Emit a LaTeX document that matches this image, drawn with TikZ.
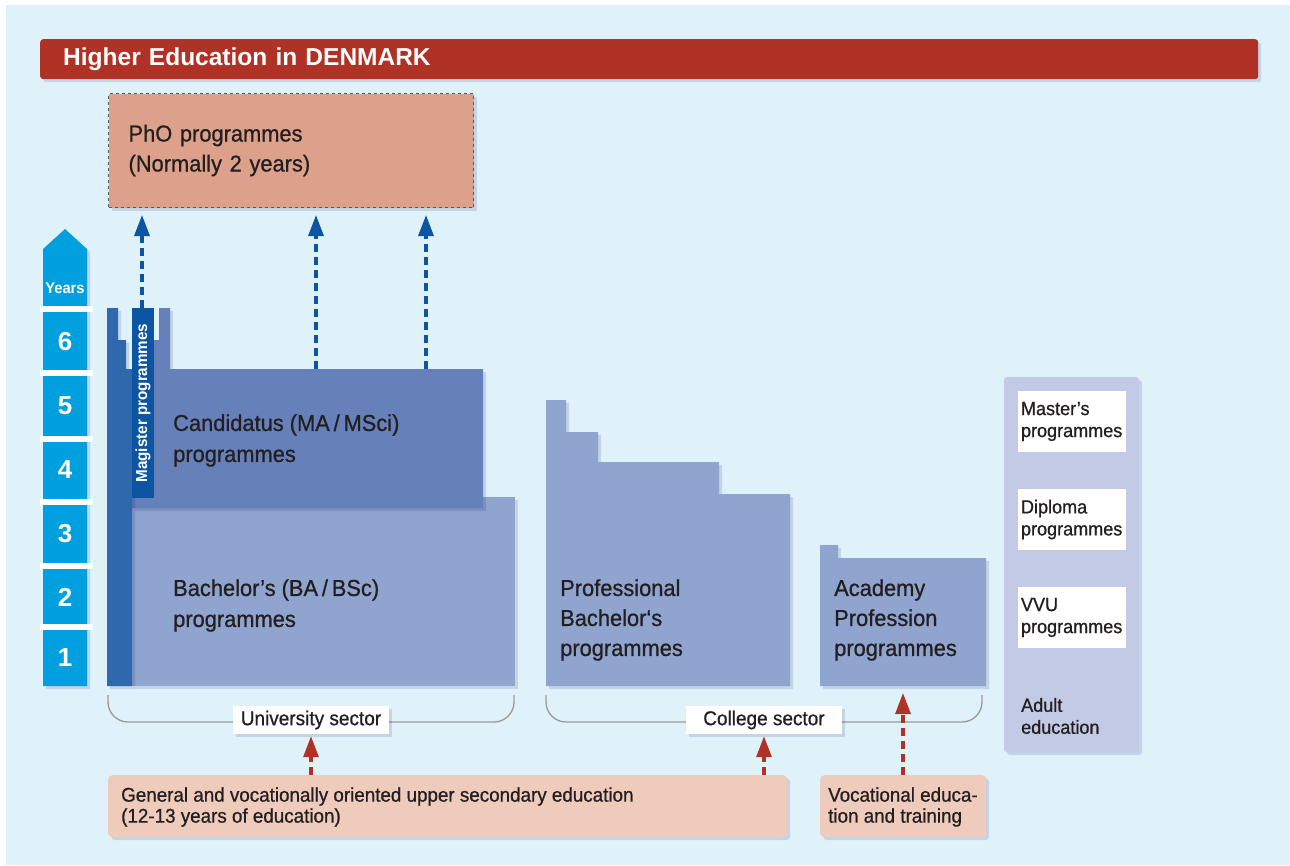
\documentclass[tikz,border=0pt]{standalone}
\usepackage{fontspec}
\setmainfont{Liberation Sans}
\newfontfamily\cond[FakeStretch=0.95,UprightFeatures={FakeBold=0.8}]{Liberation Sans}
\usetikzlibrary{shadows,arrows.meta}
\definecolor{bgc}{HTML}{DFF2FA}
\definecolor{redc}{HTML}{B03226}
\definecolor{phdc}{HTML}{DCA08B}
\definecolor{darkc}{HTML}{3068AE}
\definecolor{magc}{HTML}{0C55A2}
\definecolor{candc}{HTML}{6680BA}
\definecolor{bachc}{HTML}{8FA4CF}
\definecolor{adultc}{HTML}{C3CAE6}
\definecolor{lowc}{HTML}{EFCBBB}
\definecolor{yearc}{HTML}{00A0DF}
\definecolor{bluearr}{HTML}{0B55A3}
\definecolor{txtc}{HTML}{231F20}
\definecolor{bracec}{HTML}{9A9A9A}
\tikzset{
  shad/.style={drop shadow={shadow xshift=3pt,shadow yshift=-3pt,opacity=0.12,fill=black!70!blue}},
  bigtxt/.style={anchor=west,align=left,inner sep=0pt,text=txtc,font=\cond\fontsize{23}{31}\selectfont},
  midtxt/.style={anchor=west,align=left,inner sep=0pt,text=txtc,font=\cond\fontsize{19.8}{21}\selectfont},
  whitebox/.style={fill=white,minimum width=108pt,minimum height=61pt,text width=102pt,inner xsep=3pt,inner ysep=0pt,align=left,text=txtc,font=\cond\fontsize{19}{22}\selectfont},
  sectorlabel/.style={fill=white,minimum width=156pt,minimum height=28pt,inner sep=0pt,text=txtc,font=\cond\fontsize{20}{22}\selectfont,shad},
  lowbox/.style={fill=lowc,rounded corners=4pt,anchor=north west,inner sep=0pt,shad},
  yearnum/.style={text=white,font=\bfseries\fontsize{26}{26}\selectfont,inner sep=0pt},
  sep/.style={fill=white},
  bluedash/.style={draw=bluearr,line width=3.2pt,dash pattern=on 8pt off 5pt,-{Triangle[length=21pt,width=15pt]}},
  reddash/.style={draw=redc,line width=3.2pt,dash pattern=on 8pt off 5pt,-{Triangle[length=21pt,width=15pt]}},
  brace/.style={draw=bracec,line width=1.3pt,rounded corners=20pt}
}
\begin{document}
\begin{tikzpicture}[x=1pt,y=-1pt]
\useasboundingbox (0,0) rectangle (1290,865);
\fill[white] (0,0) rectangle (1290,865);
\fill[bgc] (6,5) rectangle (1290,865);

% title
\node[fill=redc,rounded corners=3pt,anchor=north west,minimum height=40pt,text width=1172pt,inner xsep=23pt,inner ysep=0pt,align=left,text=white,font=\bfseries\fontsize{24.5}{26}\selectfont,shad] (title) at (40,39) {Higher Education in DENMARK};

% PhD box
\node[fill=phdc,draw=black!65,dashed,line width=1.1pt,anchor=north west,minimum height=114pt,text width=325pt,inner xsep=20pt,inner ysep=0pt,align=left,text=txtc,font=\cond\fontsize{23}{30}\selectfont,shad] (phd) at (108,93) {PhO programmes\\(Normally 2 years)};

% years bar
\fill[yearc,shad] (43,249) -- (65,229) -- (87,249) -- (87,686) -- (43,686) -- cycle;
\foreach \yy in {309,373,439,502,566,627} \fill[sep] (40,\yy-3) rectangle (93,\yy+3);
\node[text=white,font=\cond\bfseries\fontsize{15.5}{16}\selectfont,inner sep=0pt] (years) at (65,288) {Years};
\node[yearnum] (y6) at (65,342) {6};
\node[yearnum] (y5) at (65,406) {5};
\node[yearnum] (y4) at (65,470) {4};
\node[yearnum] (y3) at (65,534) {3};
\node[yearnum] (y2) at (65,597) {2};
\node[yearnum] (y1) at (65,658) {1};

% university sector shapes
\fill[bachc,shad] (132,497) rectangle (515,686);
\fill[candc,shad] (132,340) -- (159,340) -- (159,308) -- (170,308) -- (170,369) -- (483,369) -- (483,508) -- (132,508) -- cycle;
\fill[darkc,shad] (107,308) -- (118,308) -- (118,340) -- (126,340) -- (126,369) -- (132,369) -- (132,686) -- (107,686) -- cycle;
\node[rotate=90,fill=magc,minimum width=190pt,minimum height=22pt,inner sep=0pt,text=white,font=\cond\bfseries\fontsize{16}{16}\selectfont] (mag) at (143,403) {Magister programmes};
\node[bigtxt] (cand) at (173,440.5) {Candidatus (MA\,/\,MSci)\\programmes};
\node[bigtxt] (bach) at (173,605.5) {Bachelor’s (BA\,/\,BSc)\\programmes};

% college sector shapes
\fill[bachc,shad] (546,686) -- (546,400) -- (566,400) -- (566,432) -- (598,432) -- (598,462) -- (719,462) -- (719,494) -- (790,494) -- (790,686) -- cycle;
\node[bigtxt,font=\cond\fontsize{23}{30}\selectfont] (prof) at (560,620) {Professional\\Bachelor‘s\\programmes};
\fill[bachc,shad] (820,686) -- (820,545) -- (838,545) -- (838,558) -- (986,558) -- (986,686) -- cycle;
\node[bigtxt,font=\cond\fontsize{23}{30}\selectfont] (acad) at (834,620) {Academy\\Profession\\programmes};

% adult education
\fill[adultc,rounded corners=3pt,shad] (1004,377) rectangle (1139,752);
\node[whitebox] (mast) at (1072,421.5) {Master’s\\programmes};
\node[whitebox] (dipl) at (1072,519.5) {Diploma\\programmes};
\node[whitebox] (vvu) at (1072,617.5) {VVU\\programmes};
\node[anchor=west,align=left,inner sep=0pt,text=txtc,font=\cond\fontsize{19}{22}\selectfont] (adult) at (1021,716) {Adult\\education};

% braces
\draw[brace] (108,695) -- (108,722) -- (514,722) -- (514,695);
\draw[brace] (546,695) -- (546,722) -- (982,722) -- (982,695);
\node[sectorlabel] (uni) at (311,720) {University sector};
\node[sectorlabel] (coll) at (764,720) {College sector};

% lower boxes
\node[lowbox,minimum width=679pt,minimum height=62pt] (gen) at (108,775) {};
\node[midtxt] (gentxt) at (121,807) {General and vocationally oriented upper secondary education\\(12-13 years of education)};
\node[lowbox,minimum width=166pt,minimum height=62pt] (voc) at (820,775) {};
\node[midtxt] (voctxt) at (828,807) {Vocational educa-\\tion and training};

% blue arrows to PhD
\coordinate (m1) at (142,308);
\coordinate (c1) at (316,369);
\coordinate (c2) at (426,369);
\coordinate (p1) at (142,215);
\coordinate (p2) at (316,215);
\coordinate (p3) at (426,215);
\draw[bluedash] (m1) -- (p1);
\draw[bluedash] (c1) -- (p2);
\draw[bluedash] (c2) -- (p3);

% red arrows
\draw[reddash] (gen.north -| uni.south) -- ([yshift=-2pt]uni.south);
\draw[reddash] (gen.north -| coll.south) -- ([yshift=-2pt]coll.south);
\coordinate (acadb) at (903,693);
\draw[reddash] (voc.north -| acadb) -- (acadb);
\end{tikzpicture}
\end{document}
